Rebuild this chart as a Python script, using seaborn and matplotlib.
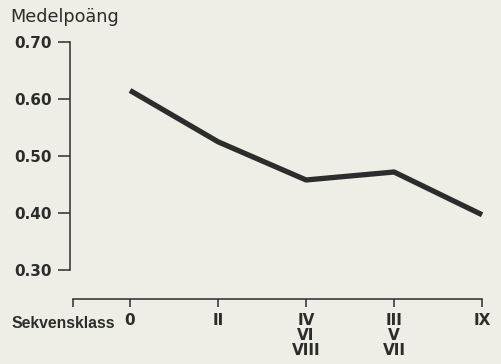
import matplotlib
matplotlib.use("Agg")
import matplotlib.pyplot as plt
import pandas as pd
import seaborn as sns

# data
classes = ["0", "II", "IV\nVI\nVIII", "III\nV\nVII", "IX"]
scores = [0.615, 0.525, 0.458, 0.472, 0.397]
yticks = [0.30, 0.40, 0.50, 0.60, 0.70]

BG = "#eeeee6"
INK = "#2c2c2c"


def main():
    sns.set_style("white")
    plt.rcParams["font.family"] = ["DejaVu Sans"]

    df = pd.DataFrame({"pos": range(len(classes)), "score": scores})

    fig = plt.figure(figsize=(5.01, 3.64), dpi=100, facecolor=BG)
    ax = fig.add_axes([70 / 501, 1 - 302 / 364, 420 / 501, 264 / 364])
    ax.set_facecolor(BG)

    sns.lineplot(data=df, x="pos", y="score", color=INK, linewidth=3.8,
                 solid_capstyle="butt", solid_joinstyle="round", ax=ax)

    ax.set_xlim(-0.682, 4.09)
    ax.set_ylim(0.244, 0.707)

    for side in ["top", "right"]:
        ax.spines[side].set_visible(False)
    ax.spines["left"].set_bounds(0.30, 0.70)
    ax.spines["left"].set_color(INK)
    ax.spines["left"].set_linewidth(1.1)
    ax.spines["bottom"].set_position(("data", 0.249))
    ax.spines["bottom"].set_bounds(-0.65, 4.0)
    ax.spines["bottom"].set_color(INK)
    ax.spines["bottom"].set_linewidth(1.1)

    ax.set_yticks(yticks)
    ax.set_yticklabels([f"{v:.2f}" for v in yticks], fontsize=11,
                       fontweight="bold", color=INK)
    ax.tick_params(axis="y", direction="out", length=9, width=1.1,
                   color=INK, pad=4, left=True)

    ax.set_xticks([-0.65] + list(range(len(classes))))
    ax.set_xticklabels([""] + classes, fontsize=11, fontweight="bold",
                       color=INK, linespacing=1.0)
    ax.tick_params(axis="x", direction="out", length=6, width=1.1,
                   color=INK, pad=4, bottom=True)

    ax.set_xlabel("")
    ax.set_ylabel("")

    fig.text(10 / 501, 1 - 17 / 364, "Medelpoäng", fontsize=12.7, color=INK,
             va="center", ha="left")
    fig.text(12 / 501, 1 - 323 / 364, "Sekvensklass", fontsize=11.3,
             color=INK, va="center", ha="left", fontweight="bold",
             family=["Liberation Sans", "DejaVu Sans"])

    fig.savefig("out.png", dpi=100, facecolor=BG)


if __name__ == "__main__":
    main()
